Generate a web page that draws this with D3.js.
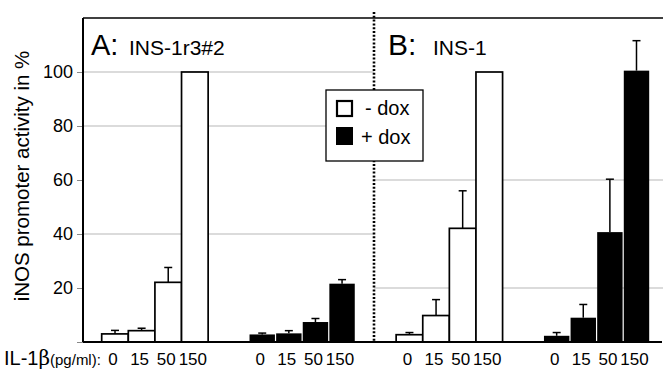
<!DOCTYPE html>
<html>
<head>
<meta charset="utf-8">
<script src="https://cdn.jsdelivr.net/npm/d3@7"></script>
<style>
  body { margin: 0; background: #fff; }
  svg { display: block; font-family: 'Liberation Sans', Arial, sans-serif; }
</style>
</head>
<body>
<div id="content"></div>
<script>
const width = 663;
const height = 372;

// IL-1beta doses (pg/ml) and the four bar groups
const doses = ['0', '15', '50', '150'];
const groups = ['A-', 'A+', 'B-', 'B+'];

// iNOS promoter activity in % (mean) and upper error
const minusA = [3.0, 4.2, 22.1, 100];
const minusAErr = [1.3, 0.9, 5.5, 0];
const plusA = [2.8, 3.2, 7.4, 21.6];
const plusAErr = [0.5, 1.0, 1.3, 1.5];
const minusB = [2.7, 9.8, 42.1, 100];
const minusBErr = [0.8, 5.9, 13.9, 0];
const plusB = [2.3, 9.0, 40.7, 100.5];
const plusBErr = [1.2, 4.9, 19.6, 11.1];

const yTicks = [20, 40, 60, 80, 100];
const gridA = [40, 80, 100];
const gridB = [20, 60];

const black = '#000';
const white = '#fff';
const grey = '#b8b8b8';

const series = [
  { group: 'A-', fill: white, values: minusA, err: minusAErr },
  { group: 'A+', fill: black, values: plusA, err: plusAErr },
  { group: 'B-', fill: white, values: minusB, err: minusBErr },
  { group: 'B+', fill: black, values: plusB, err: plusBErr },
];

const plotLeft = 83;
const plotRight = 663;
const plotTop = 18;
const plotBottom = 342;
const split = 374;

const x = d3.scaleBand().domain(groups).range([101.7, 649.8]).paddingInner(0.277).paddingOuter(0);
const xi = d3.scaleBand().domain(doses).range([0, x.bandwidth()]).padding(0);
const y = d3.scaleLinear().domain([0, 120]).range([plotBottom, plotTop]);

const svg = d3.select('#content')
  .append('svg')
  .attr('width', width)
  .attr('height', height);

// gridlines, each half has its own set
svg.append('g').selectAll('line')
  .data(gridA)
  .join('line')
  .attr('x1', plotLeft).attr('x2', split)
  .attr('y1', d => y(d)).attr('y2', d => y(d))
  .attr('stroke', grey).attr('stroke-width', 1.2);

svg.append('g').selectAll('line')
  .data(gridB)
  .join('line')
  .attr('x1', split).attr('x2', plotRight)
  .attr('y1', d => y(d)).attr('y2', d => y(d))
  .attr('stroke', grey).attr('stroke-width', 1.2);

// y axis: short grey ticks + labels
const yAxis = svg.append('g')
  .attr('transform', `translate(${plotLeft},0)`)
  .call(d3.axisLeft(y).tickValues([0, ...yTicks]).tickSize(6).tickPadding(4).tickFormat(d => (d === 0 ? '' : d)));
yAxis.select('.domain').remove();
yAxis.selectAll('.tick line').attr('stroke', '#888');
yAxis.selectAll('.tick text')
  .attr('font-size', 18)
  .attr('font-family', "'Liberation Sans', Arial, sans-serif")
  .attr('fill', black);

// bars
const bars = svg.append('g').selectAll('g')
  .data(series)
  .join('g')
  .attr('transform', d => `translate(${x(d.group)},0)`);

bars.selectAll('rect')
  .data(d => d.values.map((v, i) => ({ dose: doses[i], v, e: d.err[i], fill: d.fill })))
  .join('rect')
  .attr('x', d => xi(d.dose) + (d.fill === black ? 0.6 : 0))
  .attr('y', d => y(d.v))
  .attr('width', d => xi.bandwidth() - (d.fill === black ? 1.2 : 0))
  .attr('height', d => y(0) - y(d.v))
  .attr('fill', d => d.fill)
  .attr('stroke', d => (d.fill === black ? 'none' : black))
  .attr('stroke-width', 1.7);

// error bars (upper only)
const errs = bars.selectAll('g.err')
  .data(d => d.values.map((v, i) => ({ dose: doses[i], v, e: d.err[i] })).filter(d => d.e > 0))
  .join('g')
  .classed('err', true)
  .attr('transform', d => `translate(${xi(d.dose) + xi.bandwidth() / 2},0)`);

errs.append('line')
  .attr('y1', d => y(d.v)).attr('y2', d => y(d.v + d.e))
  .attr('stroke', black).attr('stroke-width', 1.5);
errs.append('line')
  .attr('x1', -4).attr('x2', 4)
  .attr('y1', d => y(d.v + d.e)).attr('y2', d => y(d.v + d.e))
  .attr('stroke', black).attr('stroke-width', 1.5);

// frame
svg.append('line')
  .attr('x1', plotLeft).attr('x2', plotRight).attr('y1', plotTop).attr('y2', plotTop)
  .attr('stroke', black).attr('stroke-width', 1.5);
svg.append('line')
  .attr('x1', plotLeft).attr('x2', plotLeft).attr('y1', plotTop).attr('y2', plotBottom)
  .attr('stroke', black).attr('stroke-width', 2);
svg.append('line')
  .attr('x1', plotLeft).attr('x2', 662).attr('y1', plotBottom).attr('y2', plotBottom)
  .attr('stroke', black).attr('stroke-width', 2);

// dotted divider
svg.append('line')
  .attr('x1', split).attr('x2', split).attr('y1', 12).attr('y2', plotBottom)
  .attr('stroke', black).attr('stroke-width', 2.6)
  .attr('stroke-dasharray', '2,1.8');

// panel titles
const titles = svg.append('g').attr('fill', black);
titles.append('text').attr('x', 91).attr('y', 55).attr('font-size', 29).text('A:');
titles.append('text').attr('x', 129).attr('y', 55).attr('font-size', 21).text('INS-1r3#2');
titles.append('text').attr('x', 388).attr('y', 55).attr('font-size', 30).text('B:');
titles.append('text').attr('x', 433).attr('y', 55).attr('font-size', 21).text('INS-1');

// legend
const legend = svg.append('g');
legend.append('rect')
  .attr('x', 326).attr('y', 90).attr('width', 97).attr('height', 71)
  .attr('fill', white).attr('stroke', black).attr('stroke-width', 1.3);
legend.append('rect')
  .attr('x', 337).attr('y', 101).attr('width', 15).attr('height', 15)
  .attr('fill', white).attr('stroke', black).attr('stroke-width', 2.2);
legend.append('rect')
  .attr('x', 336).attr('y', 127).attr('width', 17).attr('height', 18)
  .attr('fill', black);
legend.append('text').attr('x', 365).attr('y', 115).attr('font-size', 20).text('- dox');
legend.append('text').attr('x', 361).attr('y', 144).attr('font-size', 20).text('+ dox');

// y title
svg.append('text')
  .attr('transform', 'translate(29,176) rotate(-90)')
  .attr('text-anchor', 'middle')
  .attr('font-size', 20.5)
  .text('iNOS promoter activity in %');

// x labels
const xl = svg.append('g').selectAll('g')
  .data(series)
  .join('g')
  .attr('transform', d => `translate(${x(d.group)},0)`);
xl.selectAll('text')
  .data(doses)
  .join('text')
  .attr('x', d => xi(d) + xi.bandwidth() / 2 - 2)
  .attr('y', 365)
  .attr('text-anchor', 'middle')
  .attr('font-size', 17)
  .text(d => d);

const il = svg.append('text').attr('x', 4).attr('y', 365);
il.append('tspan').attr('font-size', 20).text('IL-1');
il.append('tspan').attr('font-size', 20).attr('font-family', "'DejaVu Serif', serif").text('β');
il.append('tspan').attr('font-size', 15).text('(pg/ml):');
</script>
</body>
</html>
